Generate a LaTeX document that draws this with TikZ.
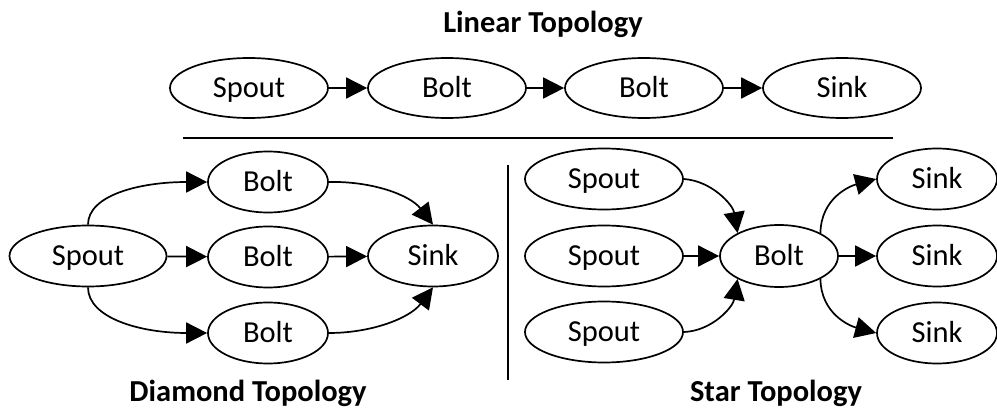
\documentclass[tikz,border=0pt]{standalone}
\usepackage{fontspec}
\setmainfont{Carlito}
\usetikzlibrary{shapes.geometric,arrows.meta}

\begin{document}
\begin{tikzpicture}[x=1pt,y=-1pt,
  every node/.style={font=\fontsize{30.5}{36}\selectfont},
  oval/.style={ellipse,draw,line width=1.7pt,inner sep=0pt,
    text height=19.5pt,text depth=0pt},
  wide/.style={oval,minimum width=158pt,minimum height=60pt},
  mid/.style={oval,minimum width=130pt,minimum height=61pt},
  narrow/.style={oval,minimum width=120pt,minimum height=61pt},
  heading/.style={anchor=base,font=\fontsize{30.5}{36}\selectfont\bfseries},
  flow/.style={line width=1.7pt,-{Triangle[length=21pt,width=21pt]}},
  rule/.style={line width=1.7pt}]
\useasboundingbox (0,0) rectangle (997,412);

% Linear topology
\node[heading] (tlin) at (543,33) {Linear Topology};
\node[wide] (l1) at (249,88) {Spout};
\node[wide] (l2) at (447,88) {Bolt};
\node[wide] (l3) at (644,88) {Bolt};
\node[wide] (l4) at (842,88) {Sink};
\draw[flow] (l1) -- (l2);
\draw[flow] (l2) -- (l3);
\draw[flow] (l3) -- (l4);

% separators
\coordinate (hl) at (183,138);
\coordinate (hr) at (893,138);
\coordinate (vt) at (508,165);
\coordinate (vb) at (508,380);
\draw[rule] (hl) -- (hr);
\draw[rule] (vt) -- (vb);

% Diamond topology
\node[wide,minimum width=157pt,minimum height=61pt] (ds) at (88,256) {Spout};
\node[narrow] (db1) at (268,182) {Bolt};
\node[narrow] (db2) at (268,257) {Bolt};
\node[narrow] (db3) at (268,333) {Bolt};
\node[mid] (dk) at (433,256) {Sink};
\node[heading] (tdia) at (248,401) {Diamond Topology};
\draw[flow] (ds.north) .. controls (88,195) and (140,182) .. (db1.west);
\draw[flow] (ds) -- (db2);
\draw[flow] (ds.south) .. controls (88,318) and (140,333) .. (db3.west);
\draw[flow] (db1.east) .. controls (372,181) and (410,195) .. (dk.north);
\draw[flow] (db2) -- (dk);
\draw[flow] (db3.east) .. controls (372,333) and (410,318) .. (dk.south);

% Star topology
\node[wide,minimum height=61pt] (ss1) at (604,179) {Spout};
\node[wide,minimum height=61pt] (ss2) at (604,256) {Spout};
\node[wide,minimum height=61pt] (ss3) at (604,332) {Spout};
\node[oval,minimum width=118pt,minimum height=62pt] (sb) at (779,256) {Bolt};
\node[narrow] (sk1) at (937,179) {Sink};
\node[narrow] (sk2) at (937,256) {Sink};
\node[narrow] (sk3) at (937,333) {Sink};
\node[heading] (tstar) at (776,401) {Star Topology};
\draw[flow] (ss1.east) .. controls (712,181) and (733,205) .. (sb.151);
\draw[flow] (ss2) -- (sb);
\draw[flow] (ss3.east) .. controls (712,331) and (733,307) .. (sb.-151);
\draw[flow] (sb.29) .. controls (821,198) and (850,186) .. (sk1.west);
\draw[flow] (sb) -- (sk2);
\draw[flow] (sb.-29) .. controls (821,314) and (850,326) .. (sk3.west);
\end{tikzpicture}
\end{document}
